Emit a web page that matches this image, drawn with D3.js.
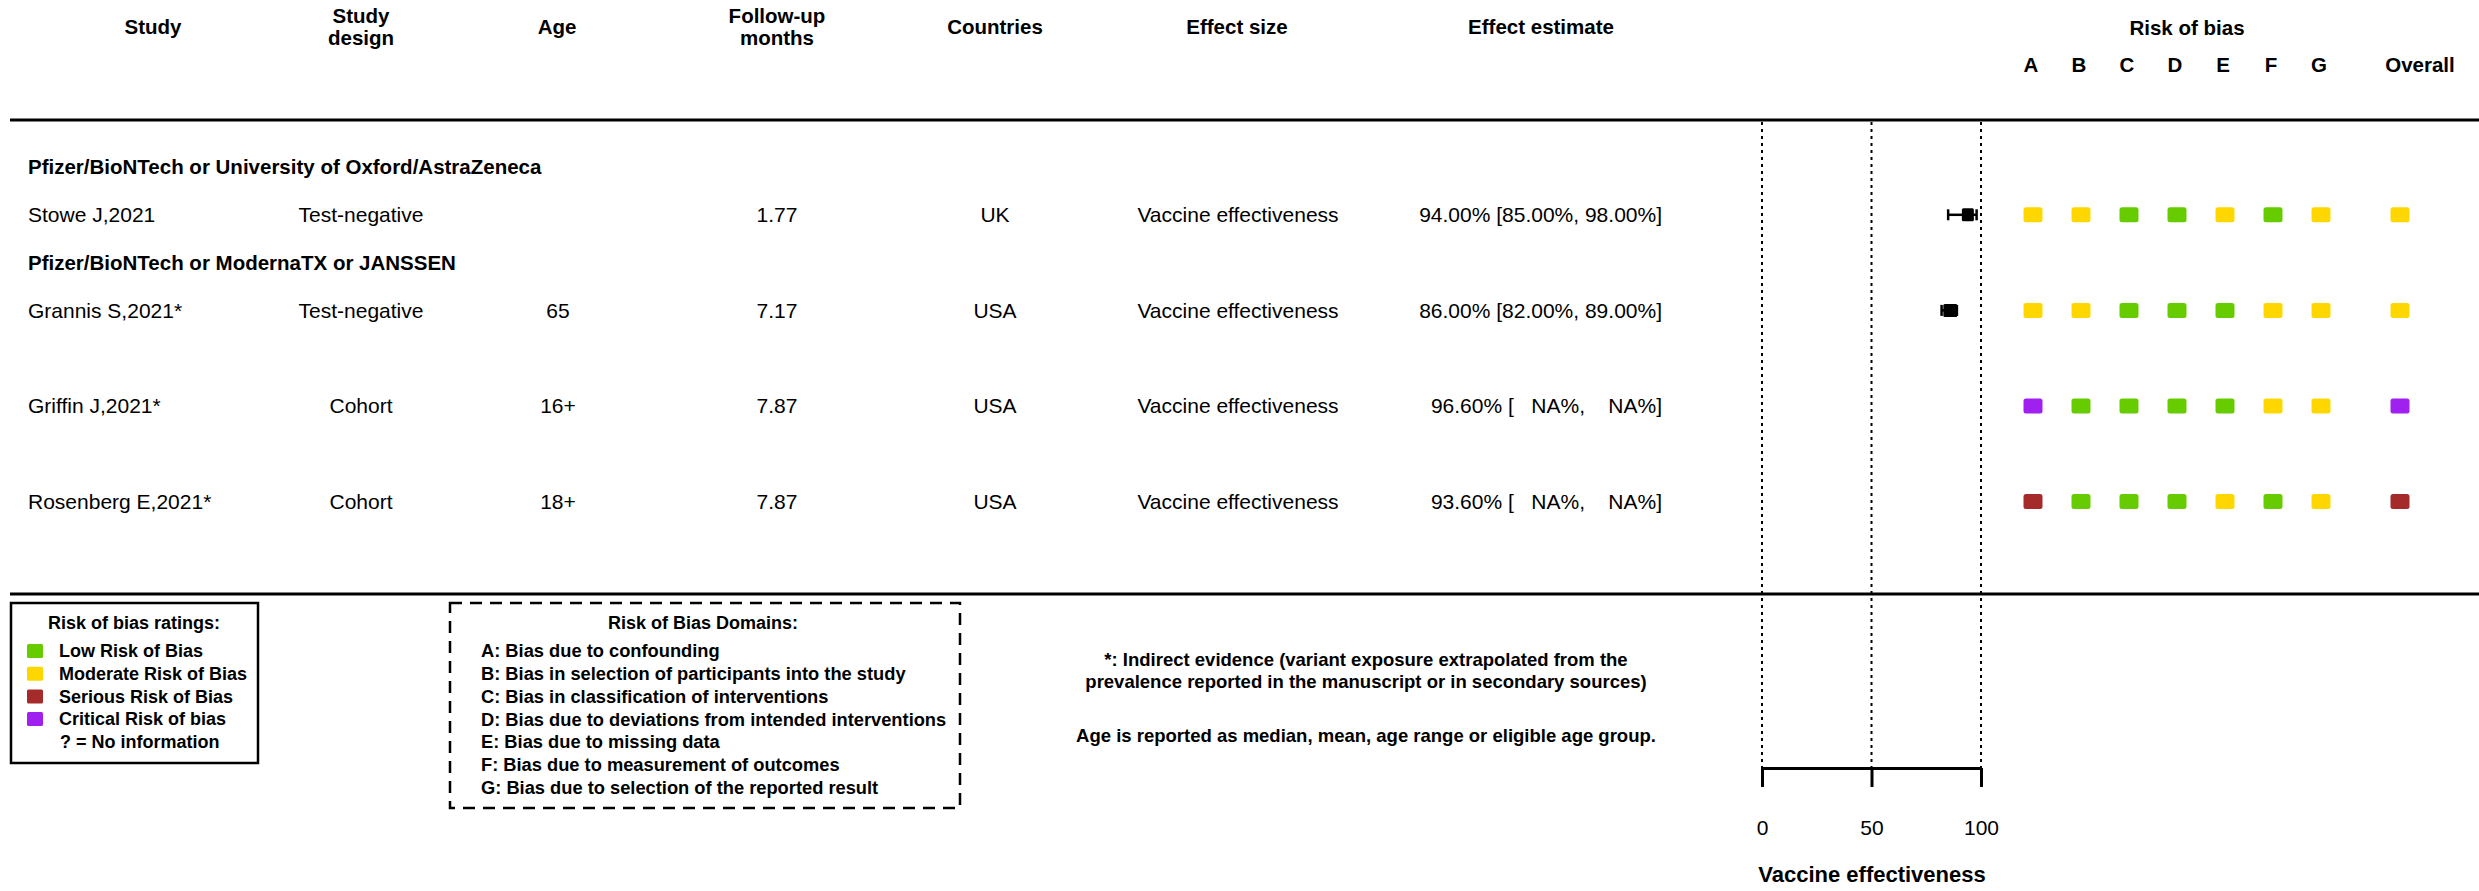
<!DOCTYPE html>
<html>
<head>
<meta charset="utf-8">
<script src="https://cdn.jsdelivr.net/npm/d3@7"></script>
<style>
  html, body { margin: 0; padding: 0; background: #fff; }
  svg { display: block; }
  text { font-family: "Liberation Sans", Arial, sans-serif; fill: #000; }
</style>
</head>
<body>
<svg id="chart" width="2479" height="891"></svg>
<script>
// ---------------- data ----------------
const groupLabels = ["Pfizer/BioNTech or University of Oxford/AstraZeneca",
                     "Pfizer/BioNTech or ModernaTX or JANSSEN"];
const studies = ["Stowe J,2021", "Grannis S,2021*", "Griffin J,2021*", "Rosenberg E,2021*"];
const studyGroup = [0, 1, 1, 1];
const designs = ["Test-negative", "Test-negative", "Cohort", "Cohort"];
const ages = ["", "65", "16+", "18+"];
const followUp = ["1.77", "7.17", "7.87", "7.87"];
const countries = ["UK", "USA", "USA", "USA"];
const effectSizes = ["Vaccine effectiveness", "Vaccine effectiveness", "Vaccine effectiveness", "Vaccine effectiveness"];
const estimates = [94.00, 86.00, 96.60, 93.60];
const lowerCI = [85.00, 82.00, null, null];
const upperCI = [98.00, 89.00, null, null];
const boxSizes = [12, 14, null, null];
const domains = ["A", "B", "C", "D", "E", "F", "G"];
const robRatings = [
  ["M", "M", "L", "L", "M", "L", "M"],
  ["M", "M", "L", "L", "L", "M", "M"],
  ["C", "L", "L", "L", "L", "M", "M"],
  ["S", "L", "L", "L", "M", "L", "M"]
];
const robOverall = ["M", "M", "C", "S"];
const ratingKeys = ["L", "M", "S", "C"];
const ratingLabels = ["Low Risk of Bias", "Moderate Risk of Bias", "Serious Risk of Bias", "Critical Risk of bias"];
const domainLabels = [
  "A: Bias due to confounding",
  "B: Bias in selection of participants into the study",
  "C: Bias in classification of interventions",
  "D: Bias due to deviations from intended interventions",
  "E: Bias due to missing data",
  "F: Bias due to measurement of outcomes",
  "G: Bias due to selection of the reported result"
];
const axisTicks = [0, 50, 100];
const axisTitle = "Vaccine effectiveness";
const footnotes = ["*: Indirect evidence (variant exposure extrapolated from the",
                   "prevalence reported in the manuscript or in secondary sources)",
                   "Age is reported as median, mean, age range or eligible age group."];

// ---------------- layout ----------------
const svg = d3.select("#chart");
const colors = d3.scaleOrdinal().domain(ratingKeys).range(["#66CC00", "#FFD700", "#A52A2A", "#A020F0"]);

// line slots: group header, study, group header, study, blank, study, blank, study
const lineKeys = ["g0", "s0", "g1", "s1", "b1", "s2", "b2", "s3"];
const yLine = d3.scaleLinear().domain([0, 1]).range([167, 167 + 47.8]);
const yOf = key => yLine(lineKeys.indexOf(key));

const x = d3.scaleLinear().domain([0, 100]).range([1762, 1981]);
const xDom = d3.scalePoint().domain(domains).range([2033, 2321]);
const xOverall = 2400;

const F = 21;      // body font
const FH = 20.5;   // header font
const FS = 18;     // small bold font

function txt(g, s, xx, yy, opts = {}) {
  return g.append("text")
    .attr("x", xx).attr("y", yy).attr("dy", "0.35em")
    .attr("text-anchor", opts.anchor || "start")
    .attr("font-size", opts.size || F)
    .attr("font-weight", opts.bold ? "bold" : "normal")
    .attr("xml:space", "preserve")
    .style("white-space", "pre")
    .text(s);
}

// ---------- headers ----------
const hdr = svg.append("g");
txt(hdr, "Study", 153, 27, {anchor: "middle", bold: true, size: FH});
txt(hdr, "Study", 361, 16, {anchor: "middle", bold: true, size: FH});
txt(hdr, "design", 361, 38, {anchor: "middle", bold: true, size: FH});
txt(hdr, "Age", 557, 27, {anchor: "middle", bold: true, size: FH});
txt(hdr, "Follow-up", 777, 16, {anchor: "middle", bold: true, size: FH});
txt(hdr, "months", 777, 38, {anchor: "middle", bold: true, size: FH});
txt(hdr, "Countries", 995, 27, {anchor: "middle", bold: true, size: FH});
txt(hdr, "Effect size", 1237, 27, {anchor: "middle", bold: true, size: FH});
txt(hdr, "Effect estimate", 1541, 27, {anchor: "middle", bold: true, size: FH});
txt(hdr, "Risk of bias", 2187, 28, {anchor: "middle", bold: true, size: FH});
domains.forEach(d => txt(hdr, d, xDom(d) - 2, 65, {anchor: "middle", bold: true, size: FH}));
txt(hdr, "Overall", 2420, 65, {anchor: "middle", bold: true, size: FH});

// horizontal rules
svg.append("line").attr("x1", 10).attr("x2", 2479).attr("y1", 120).attr("y2", 120)
  .attr("stroke", "#000").attr("stroke-width", 3);
svg.append("line").attr("x1", 10).attr("x2", 2479).attr("y1", 594).attr("y2", 594)
  .attr("stroke", "#000").attr("stroke-width", 3);

// ---------- group headers ----------
groupLabels.forEach((g, i) => txt(svg, g, 28, yOf("g" + i), {bold: true, size: FH}));

// ---------- table rows ----------
const fmt = v => v == null ? "   NA" : v.toFixed(2);
studies.forEach((s, i) => {
  const yy = yOf("s" + i);
  txt(svg, s, 28, yy);
  txt(svg, designs[i], 361, yy, {anchor: "middle"});
  txt(svg, ages[i], 558, yy, {anchor: "middle"});
  txt(svg, followUp[i], 777, yy, {anchor: "middle"});
  txt(svg, countries[i], 995, yy, {anchor: "middle"});
  txt(svg, effectSizes[i], 1238, yy, {anchor: "middle"});
  txt(svg, `${fmt(estimates[i])}% [${fmt(lowerCI[i])}%, ${fmt(upperCI[i])}%]`, 1662, yy, {anchor: "end"});
});

// ---------- forest plot ----------
const fp = svg.append("g");
axisTicks.forEach(t => {
  fp.append("line").attr("x1", x(t)).attr("x2", x(t)).attr("y1", 122).attr("y2", 768)
    .attr("stroke", "#000").attr("stroke-width", 2).attr("stroke-dasharray", "3,4");
});
studies.forEach((s, i) => {
  if (lowerCI[i] == null || upperCI[i] == null) return;
  const yy = yOf("s" + i);
  fp.append("line").attr("x1", x(lowerCI[i])).attr("x2", x(upperCI[i])).attr("y1", yy).attr("y2", yy)
    .attr("stroke", "#000").attr("stroke-width", 2.5);
  [lowerCI[i], upperCI[i]].forEach(v => {
    fp.append("line").attr("x1", x(v)).attr("x2", x(v)).attr("y1", yy - 5.5).attr("y2", yy + 5.5)
      .attr("stroke", "#000").attr("stroke-width", 2.5);
  });
  const b = boxSizes[i];
  fp.append("rect").attr("x", x(estimates[i]) - b / 2).attr("y", yy - 6.5).attr("width", b).attr("height", 13)
    .attr("rx", 1.5).attr("fill", "#000");
});

const axis = d3.axisBottom(x).tickValues(axisTicks).tickSize(19).tickSizeOuter(0).tickPadding(33);
const ag = fp.append("g").attr("transform", "translate(0,768)").call(axis);
ag.select(".domain").attr("stroke-width", 3);
ag.selectAll(".tick line").attr("stroke-width", 3);
ag.selectAll(".tick text").attr("font-size", F).attr("font-family", "Liberation Sans, Arial, sans-serif");
fp.append("text").attr("x", 1872).attr("y", 874).attr("dy", "0.35em").attr("text-anchor", "middle")
  .attr("font-size", 22).attr("font-weight", "bold").text(axisTitle);

// ---------- risk of bias ----------
const rob = svg.append("g");
studies.forEach((s, i) => {
  const yy = yOf("s" + i);
  domains.forEach((d, j) => {
    rob.append("rect").attr("x", xDom(d) - 9.5).attr("y", yy - 7.5).attr("width", 19).attr("height", 15)
      .attr("rx", 2.5).attr("fill", colors(robRatings[i][j]));
  });
  rob.append("rect").attr("x", xOverall - 9.5).attr("y", yy - 7.5).attr("width", 19).attr("height", 15)
    .attr("rx", 2.5).attr("fill", colors(robOverall[i]));
});

// ---------- legends ----------
const lg = svg.append("g");
lg.append("rect").attr("x", 11).attr("y", 603).attr("width", 247).attr("height", 160)
  .attr("fill", "none").attr("stroke", "#000").attr("stroke-width", 2.5);
txt(lg, "Risk of bias ratings:", 134, 623, {anchor: "middle", bold: true, size: FS});
const yLeg = d3.scaleLinear().domain([0, 1]).range([651, 673.7]);
ratingKeys.forEach((k, i) => {
  lg.append("rect").attr("x", 27).attr("y", yLeg(i) - 7).attr("width", 16).attr("height", 14)
    .attr("rx", 1.5).attr("fill", colors(k));
  txt(lg, ratingLabels[i], 59, yLeg(i), {bold: true, size: FS});
});
txt(lg, "? = No information", 60, yLeg(4), {bold: true, size: FS});

lg.append("rect").attr("x", 450).attr("y", 603).attr("width", 510).attr("height", 205)
  .attr("fill", "none").attr("stroke", "#000").attr("stroke-width", 2.5).attr("stroke-dasharray", "12,8");
txt(lg, "Risk of Bias Domains:", 703, 623, {anchor: "middle", bold: true, size: FS});
domainLabels.forEach((d, i) => txt(lg, d, 481, yLeg(i), {bold: true, size: 18.3}));

txt(lg, footnotes[0], 1366, 660, {anchor: "middle", bold: true, size: 18.5});
txt(lg, footnotes[1], 1366, 682, {anchor: "middle", bold: true, size: 18.5});
txt(lg, footnotes[2], 1366, 736, {anchor: "middle", bold: true, size: 18.5});
</script>
</body>
</html>
